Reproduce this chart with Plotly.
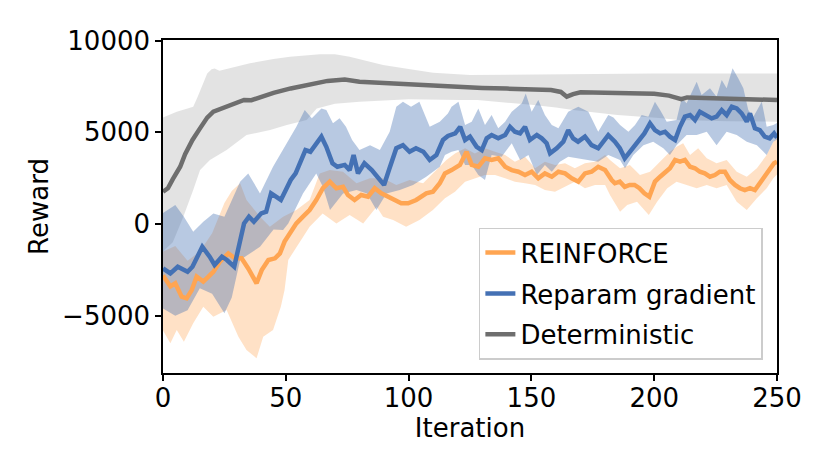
import plotly.graph_objects as go

# REINFORCE (orange) mean reward
reinforce_iter = [
    0, 1, 3, 5, 7.6, 9.6, 11.7, 13.7, 16.4, 18.5,
    20.5, 23.2, 26.6, 29.3, 32, 34.7, 38.1, 40.2, 42.9, 45.6,
    47.6, 49.5, 51.6, 54.3, 57, 59.7, 62.4, 65.1, 67.9, 70.6,
    73.3, 75.3, 78, 80.7, 83.5, 86.2, 88.9, 91.6, 94.3, 97,
    99.8, 103.1, 107.2, 109.9, 112.7, 114.8, 117.5, 120.9, 123.6, 125.7,
    128.4, 131.1, 133.8, 136.5, 139.3, 142, 144.7, 147.4, 150.1, 152.8,
    155.5, 158.3, 161, 163.7, 166.4, 169.1, 171.8, 174.5, 177.2, 180,
    182.7, 184, 186, 188, 190, 192, 194, 196, 198, 200.3,
    202.4, 204.4, 206.4, 208.5, 210.5, 212.5, 214.6, 216.6, 218.6, 220.6,
    222.7, 224.7, 226.7, 228.8, 230.8, 232.9, 234.9, 236.9, 239, 241,
    243.1, 245.1, 247.1, 248.8, 250,
]
reinforce_mean = [
    -2800, -3000, -3400, -3230, -3960, -4050, -3600, -2870, -3140, -2870,
    -2600, -2050, -1600, -1870, -1870, -2420, -3230, -2510, -1960, -1870,
    -1600, -960, -510, 35, 400, 760, 1310, 1950, 2310, 1950,
    2030, 1580, 1310, 1580, 1490, 1950, 1670, 1490, 1310, 1130,
    1130, 1310, 1670, 1760, 2220, 2760, 2940, 3220, 3940, 3220,
    3120, 3580, 3490, 3580, 3120, 2940, 2850, 2670, 2850, 2490,
    2760, 2580, 2850, 2760, 2490, 2310, 2760, 2850, 3120, 2940,
    2400, 2220, 2310, 2030, 2130, 2130, 1950, 1670, 1490, 2310,
    2580, 2850, 3040, 3490, 3400, 3490, 3120, 3040, 2850, 2760,
    2580, 2670, 2850, 2850, 2400, 2130, 1950, 1850, 1950, 1850,
    2220, 2580, 2940, 3310, 3400,
]
reinforce_hi_iter = [
    0, 5, 10, 15, 20, 25, 28, 31.4, 34, 39.5,
    43.5, 48.9, 54.3, 59.7, 63.8, 67.9, 73.3, 78.8, 84.2, 89.6,
    95, 100.4, 105.9, 111.3, 115.4, 118.9, 123, 127, 131.1, 135.2,
    139.3, 143.3, 147.4, 151.5, 155.5, 159.6, 163.7, 167.7, 171.8, 175.9,
    180, 182, 186.1, 190.1, 194.2, 198.3, 202.4, 206.4, 209.1, 211.8,
    214.6, 217.9, 221.4, 225.4, 229.5, 233.6, 237.7, 241.8, 245.8, 248.5,
    250,
]
reinforce_hi = [
    -1500, -1200, -2000, -1500, -500, 1140, 1800, 2220, 1310, 400,
    -150, 400, 760, 1310, 2760, 2940, 2850, 2220, 2490, 2490,
    2130, 2400, 2220, 2940, 3490, 3850, 4130, 3850, 4130, 3940,
    3760, 3400, 3670, 3040, 3400, 3220, 3310, 3040, 3310, 3400,
    3760, 3490, 3040, 3220, 2670, 2850, 3400, 3940, 4210, 4400,
    3760, 4130, 3580, 3310, 3490, 2850, 2580, 3040, 3760, 4490,
    4700,
]
reinforce_lo_iter = [
    0, 3, 5.6, 8.5, 12.3, 16.4, 20.5, 25.9, 30.7, 34,
    38.1, 40.8, 44.8, 48, 49.5, 51, 54.3, 59.7, 65, 70.6,
    76, 81.5, 87, 89.6, 93.7, 99, 104.4, 109.9, 114.8, 118.9,
    123, 127, 131.1, 135.2, 139.3, 143.3, 147.4, 151.5, 155.5, 159.6,
    163.7, 167.7, 171.8, 175.9, 180, 182, 186.1, 189, 193, 197.8,
    201.2, 205.3, 209.1, 213.2, 217.3, 221.4, 225.4, 229.5, 233.6, 237.7,
    241.8, 245.8, 248.5, 250,
]
reinforce_lo = [
    -5800, -6500, -5780, -6420, -5410, -4510, -5050, -4690, -6140, -6870,
    -7320, -6140, -5780, -4500, -3600, -1960, -1240, -150, 580, 35,
    490, 35, 940, 400, 220, -150, 220, 760, 1400, 1760,
    2310, 2490, 2670, 2670, 2490, 2310, 2220, 2130, 1850, 1760,
    2030, 2310, 1950, 2130, 2130, 1580, 670, 1040, 1220, 490,
    1220, 1950, 2310, 2130, 1950, 2130, 1950, 2130, 1220, 760,
    1400, 1950, 2490, 2700,
]

# Reparam gradient (blue) mean reward
reparam_iter = [
    0, 3, 6, 10, 12, 16, 19, 21, 24, 26,
    29, 31, 33, 35, 37, 40, 42, 44, 46, 48,
    50, 52, 54, 58, 60, 62, 64.5, 66.5, 69, 71,
    74, 76, 77.6, 79.4, 82, 85, 87.5, 90, 92, 95,
    97.7, 100.4, 103, 106, 108.6, 111.3, 114, 116, 119, 121,
    123, 125, 127.7, 129.8, 131.8, 133.8, 136.5, 139.3, 141.3, 143.3,
    145.4, 147.4, 149.4, 152.2, 154.2, 156.2, 157.6, 160.3, 163, 165,
    167, 169, 171.8, 174.5, 177.2, 179.3, 181.3, 184, 186, 188,
    190, 192, 194, 196, 198.3, 200.3, 202.4, 204.4, 206.4, 208.5,
    210.5, 212.5, 214.6, 216.6, 218.6, 221.4, 223.4, 225.4, 227.5, 229.5,
    231.6, 233.6, 235.6, 237.7, 239, 241, 243, 245, 247, 248.8,
    250,
]
reparam_mean = [
    -2420, -2690, -2330, -2600, -2330, -1240, -1780, -2230, -1780, -1960,
    -2330, -1240, 35, 400, 125, 580, 670, 1670, 1490, 1310,
    1850, 2400, 2760, 4030, 3940, 4300, 4760, 4210, 3310, 3120,
    3220, 2940, 3760, 2760, 3310, 2940, 2580, 2130, 2940, 4130,
    4300, 3940, 4130, 3940, 3490, 3760, 4580, 4800, 4940, 5300,
    4580, 4760, 4210, 4030, 4670, 4850, 4670, 4850, 5300, 5030,
    4940, 5300, 4580, 4850, 4670, 4400, 3850, 4130, 4490, 5120,
    4670, 4490, 4760, 4300, 4130, 4490, 4850, 4490, 4130, 3580,
    3940, 4300, 4580, 4940, 5490, 5120, 4940, 5030, 4760, 4580,
    5300, 5850, 5940, 5670, 6120, 5940, 5760, 5850, 6210, 5940,
    6390, 6300, 6030, 5580, 6030, 5220, 5120, 4760, 4670, 4940,
    4700,
]
reparam_hi_iter = [
    0, 5, 8.5, 12.3, 16.4, 20.5, 25, 31.4, 34.7, 39.5,
    44.8, 48.9, 54.3, 57.7, 60.6, 64.5, 66.5, 69.2, 71.9, 74.5,
    77, 80, 84.3, 88.3, 92.3, 95, 97.7, 101, 104.4, 108.6,
    112.7, 116, 117.5, 120.3, 123, 125.7, 128.4, 131.1, 133.8, 136.5,
    139.3, 142, 146.1, 147.7, 150.1, 152.8, 155.5, 158.3, 161, 165,
    169.1, 173.2, 177.2, 181.3, 183.4, 186.1, 189.5, 192.2, 194.9, 197.6,
    200.3, 202.4, 205.1, 209.1, 211.2, 213.2, 217.3, 219.3, 222.7, 225.4,
    227.5, 229.5, 231.9, 234.2, 236.3, 238.3, 240.4, 243.8, 245.8, 248.5,
    250,
]
reparam_hi = [
    600, 1035, 400, -420, 125, 580, 400, 2300, 2760, 1670,
    3120, 4030, 5300, 6210, 5760, 6300, 6210, 5490, 5760, 5300,
    4580, 4030, 4300, 4030, 5030, 6390, 6670, 6390, 6670, 5300,
    5580, 6030, 6390, 6670, 5400, 5580, 6300, 5400, 5940, 5220,
    5580, 6120, 6580, 7120, 6120, 6760, 5940, 5400, 5220, 6120,
    6390, 6120, 5030, 5940, 5800, 5400, 5030, 5400, 5940, 5850,
    6670, 6210, 5580, 5670, 6850, 6580, 7760, 7030, 7400, 6940,
    7850, 7400, 8490, 7940, 7400, 6210, 5850, 6670, 5300, 5400,
    5500,
]
reparam_lo_iter = [
    0, 5, 10, 15, 20, 25, 28, 31.4, 39.5, 45,
    48.9, 51, 57, 62.4, 65.1, 68, 73.3, 78.8, 83, 86.9,
    91, 96.4, 101.8, 107.2, 112.7, 114.8, 117.5, 120.3, 123, 125.7,
    128.4, 131.1, 133.8, 137.9, 142, 145.4, 148.8, 152.2, 155.5, 158.3,
    161.6, 165, 169.1, 173.2, 177.2, 181.3, 186.1, 188.1, 191.5, 195.6,
    199.6, 203.7, 206.4, 209.1, 213.2, 217.3, 221.4, 225.4, 229.5, 233.6,
    237.7, 241.8, 245.8, 248.5, 250,
]
reparam_lo = [
    -4600, -5000, -4700, -3500, -3800, -4860, -4000, -1960, -1240, -300,
    -330, 35, 1670, 2760, 2030, 760, 1670, 1850, 1670, 760,
    1670, 1850, 2130, 2580, 3120, 3760, 3940, 4030, 3220, 3220,
    2670, 2400, 3760, 3670, 4400, 3490, 3760, 2670, 3220, 2850,
    3400, 3670, 3580, 3490, 3400, 3760, 3490, 3040, 3760, 4300,
    4490, 4130, 3760, 4300, 4850, 4850, 5030, 4300, 5030, 4850,
    4490, 4300, 3760, 4490, 4600,
]

# Deterministic (gray) mean reward
determ_iter = [
    0, 2, 4, 7, 9, 12, 15, 18, 20.5, 25,
    30, 33, 36, 40, 45, 52, 60, 67, 74, 80,
    90, 100, 110, 120, 130, 140, 150, 158, 162, 164.4,
    167, 170, 180, 190, 200, 206, 211, 213.4, 220, 230,
    240, 250,
]
determ_mean = [
    1760, 1950, 2450, 3120, 3800, 4580, 5200, 5800, 6120, 6350,
    6600, 6760, 6750, 6950, 7150, 7390, 7600, 7800, 7880, 7760,
    7680, 7600, 7550, 7480, 7420, 7380, 7340, 7300, 7200, 6940,
    7080, 7180, 7150, 7120, 7100, 7000, 6800, 6900, 6880, 6840,
    6800, 6760,
]
determ_hi_iter = [0, 5.6, 10, 12.3, 14, 16.4, 18, 19.8, 21, 23, 30, 35.4,
                  45, 51.7, 63.9, 70, 76, 89.6, 100, 110, 125, 160, 200, 250]
determ_hi = [5810, 6120, 6300, 6390, 6900, 7660, 8200, 8430, 8480, 8350, 8600, 8760,
             9000, 9120, 9250, 9250, 9120, 8670, 8450, 8250, 8120, 8180, 8210, 8210]
determ_lo_iter = [0, 4, 8, 12.3, 15.1, 19.1, 25.9, 34, 43.6, 50.4, 58.5, 62.6, 70,
                  80, 100, 121, 128, 150, 160, 167, 185, 202, 210, 230, 250]
determ_lo = [-1500, -1000, 300, 1850, 2940, 3490, 4030, 4850, 5120, 5400, 5670, 6300, 6550,
             6670, 6800, 6760, 6760, 6500, 6350, 6210, 5940, 5780, 5670, 5600, 5580]

y_tickvals = [-5000, 0, 5000, 10000]
y_ticktext = ["\u22125000", "0", "5000", "10000"]
x_tickvals = [0, 50, 100, 150, 200, 250]

FONT = "DejaVu Sans"
ORANGE = "#ffa552"
BLUE = "#4471b4"
GRAY = "#6e6e6e"


def band(hi_x, hi_y, lo_x, lo_y, color):
    return go.Scatter(
        x=list(hi_x) + list(lo_x)[::-1],
        y=list(hi_y) + list(lo_y)[::-1],
        fill="toself",
        fillcolor=color,
        line={"width": 0},
        mode="lines",
        hoverinfo="skip",
        showlegend=False,
    )


fig = go.Figure()
fig.add_trace(band(determ_hi_iter, determ_hi, determ_lo_iter, determ_lo, "rgba(128,128,128,0.22)"))
fig.add_trace(band(reinforce_hi_iter, reinforce_hi, reinforce_lo_iter, reinforce_lo, "rgba(255,165,82,0.33)"))
fig.add_trace(band(reparam_hi_iter, reparam_hi, reparam_lo_iter, reparam_lo, "rgba(68,113,180,0.38)"))

for name, xs, ys, color in [
    ("REINFORCE", reinforce_iter, reinforce_mean, ORANGE),
    ("Reparam gradient", reparam_iter, reparam_mean, BLUE),
    ("Deterministic", determ_iter, determ_mean, GRAY),
]:
    fig.add_trace(go.Scatter(
        x=xs, y=ys, name=name, mode="lines", legendgroup=name,
        line={"color": color, "width": 4.5},
    ))

title_font = {"family": FONT, "size": 26, "color": "black"}
axis_common = dict(
    showline=True, linecolor="black", linewidth=1.5, mirror=True,
    ticks="outside", ticklen=6, tickwidth=1.5, tickcolor="black",
    showgrid=False, zeroline=False,
    tickfont={"family": FONT, "size": 26, "color": "black"},
)
fig.update_layout(
    width=830,
    height=475,
    # the page adds an 8px body margin, so pull the plot area up/left
    margin={"l": 155, "r": 61, "t": 32, "b": 110},
    plot_bgcolor="white",
    paper_bgcolor="white",
    font={"family": FONT, "size": 26, "color": "black"},
    xaxis={**axis_common, "range": [0, 250], "tickvals": x_tickvals,
           "ticklabelstandoff": -5,
           "title": {"text": "Iteration", "standoff": 4, "font": title_font}},
    yaxis={**axis_common, "range": [-8120, 10030], "tickvals": y_tickvals,
           "ticktext": y_ticktext,
           "title": {"text": "Reward", "standoff": 6, "font": title_font}},
    legend={
        "x": 0.977, "y": 0.04, "xanchor": "right", "yanchor": "bottom",
        "bgcolor": "rgba(255,255,255,0.85)", "bordercolor": "#cccccc",
        "borderwidth": 1.5, "tracegroupgap": 4,
        "font": {"family": FONT, "size": 26, "color": "black"},
    },
)

fig.write_html("out.html")
